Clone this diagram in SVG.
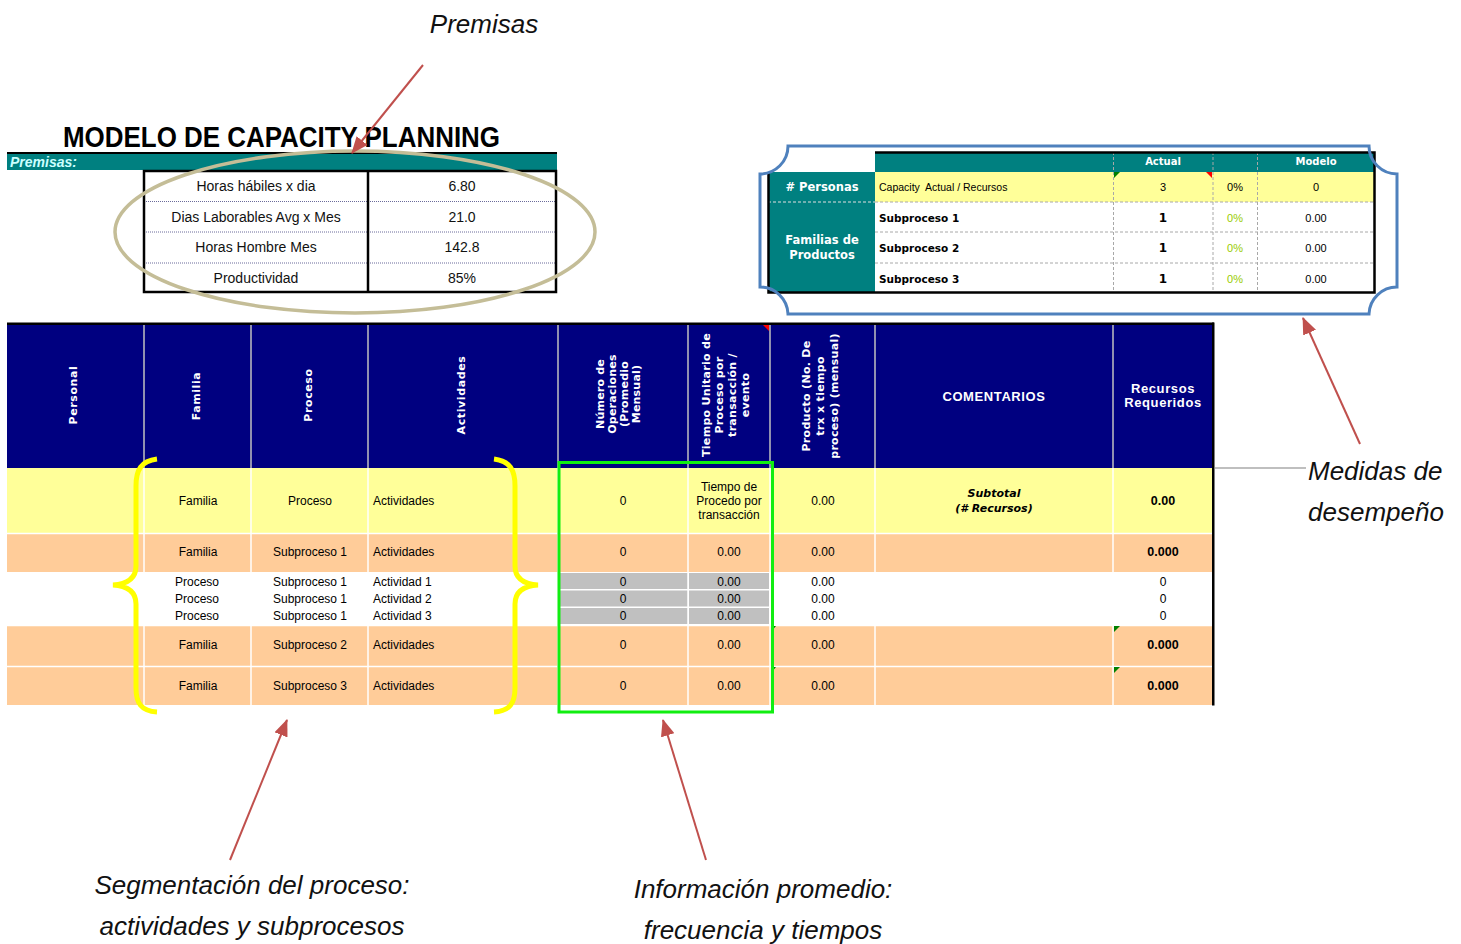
<svg xmlns="http://www.w3.org/2000/svg" width="1461" height="944" viewBox="0 0 1461 944">
<style>
.lbl{font-family:"Liberation Sans",Arial,sans-serif;font-style:italic;font-size:26px;fill:#111}
.t12{font-family:"Liberation Sans",Arial,sans-serif;font-size:12px;fill:#000}
.t14{font-family:"Liberation Sans",Arial,sans-serif;font-size:14px;fill:#111}
.b12{font-family:"Liberation Sans",Arial,sans-serif;font-size:12.5px;font-weight:bold;fill:#000}
.hv{font-family:"DejaVu Sans",Verdana,sans-serif;font-size:11px;font-weight:bold;fill:#fff;letter-spacing:0.6px}
.hh{font-family:"Liberation Sans",Arial,sans-serif;font-size:13px;font-weight:bold;fill:#fff;letter-spacing:0.6px}
.sm{font-family:"DejaVu Sans",Verdana,sans-serif;font-size:10.5px;font-weight:bold;fill:#000}
.smr{font-family:"Liberation Sans",Arial,sans-serif;font-size:11px;fill:#000}
.tw{font-family:"DejaVu Sans",Verdana,sans-serif;font-size:11.5px;font-weight:bold;fill:#fff}
.th{font-family:"DejaVu Sans",Verdana,sans-serif;font-size:10px;font-weight:bold;fill:#fff}
.mid{text-anchor:middle}
.sepg{stroke:#c0c0c0;stroke-width:1.5}
.sepw{stroke:#fff;stroke-width:1.5}
.dash{stroke:#a8a8a8;stroke-width:1;stroke-dasharray:3 2}
.dot{stroke:#6a6a9a;stroke-width:1;stroke-dasharray:1 1}
.arrow{stroke:#c0504d;stroke-width:2;fill:none;marker-end:url(#ah)}
</style>
<defs>
<marker id="ah" markerUnits="userSpaceOnUse" markerWidth="18" markerHeight="14" refX="16" refY="7" orient="auto">
<path d="M0,0 L17,7 L0,14 z" fill="#c0504d"/>
</marker>
</defs>
<rect width="1461" height="944" fill="#fff"/>

<g id="title">
<text x="63" y="147" textLength="437" lengthAdjust="spacingAndGlyphs" style="font-family:'Liberation Sans',Arial,sans-serif;font-weight:bold;font-size:29px;fill:#000">MODELO DE CAPACITY PLANNING</text>
</g>

<g id="premisas-table">
<rect x="7" y="152" width="550" height="2" fill="#000"/>
<rect x="7" y="154" width="550" height="16" fill="#008080"/>
<text x="10" y="167" style="font-family:'Liberation Sans',Arial,sans-serif;font-weight:bold;font-style:italic;font-size:14px;fill:#ccffff">Premisas:</text>
<rect x="144" y="171" width="412" height="121" fill="#fff"/>
<line x1="144" y1="201.5" x2="556" y2="201.5" class="dot"/>
<line x1="144" y1="232" x2="556" y2="232" class="dot"/>
<line x1="144" y1="263" x2="556" y2="263" class="dot"/>
<rect x="144" y="171" width="412" height="121" fill="none" stroke="#000" stroke-width="2.5"/>
<line x1="368" y1="171" x2="368" y2="292" stroke="#000" stroke-width="2.5"/>
<text x="256" y="191" class="t14 mid">Horas hábiles x dia</text>
<text x="256" y="221.5" class="t14 mid">Dias Laborables Avg x Mes</text>
<text x="256" y="252" class="t14 mid">Horas Hombre Mes</text>
<text x="256" y="282.5" class="t14 mid">Productividad</text>
<text x="462" y="191" class="t14 mid">6.80</text>
<text x="462" y="221.5" class="t14 mid">21.0</text>
<text x="462" y="252" class="t14 mid">142.8</text>
<text x="462" y="282.5" class="t14 mid">85%</text>
</g>

<g id="performance-table">
<rect x="875" y="152" width="500" height="20" fill="#008080"/>
<rect x="768" y="172" width="107" height="121" fill="#008080"/>
<rect x="875" y="172" width="500" height="30" fill="#ffff99"/>
<rect x="875" y="202" width="500" height="91" fill="#fff"/>
<line x1="768" y1="202" x2="875" y2="202" stroke="#e0e0e0" stroke-width="1" stroke-dasharray="3 2"/>
<line x1="875" y1="202" x2="1375" y2="202" class="dash"/>
<line x1="875" y1="232" x2="1375" y2="232" class="dash"/>
<line x1="875" y1="263" x2="1375" y2="263" class="dash"/>
<line x1="1113.5" y1="152" x2="1113.5" y2="293" class="dash"/>
<line x1="1213" y1="152" x2="1213" y2="293" class="dash"/>
<line x1="1257.5" y1="152" x2="1257.5" y2="293" class="dash"/>
<path d="M875,152.5 H1374.5 V292.5 H768.5 V172" fill="none" stroke="#000" stroke-width="2.5"/>
<polygon points="1114,172 1120,172 1114,178" fill="#008000"/>
<polygon points="1206,172 1212,172 1212,178" fill="#ff0000"/>
<text x="1163" y="165" class="th mid">Actual</text>
<text x="1316" y="165" class="th mid">Modelo</text>
<text x="822" y="191" class="tw mid"># Personas</text>
<text x="822" y="244" class="tw mid">Familias de</text>
<text x="822" y="258.5" class="tw mid">Productos</text>
<text x="879" y="191" class="smr" style="font-size:10.5px;white-space:pre" xml:space="preserve">Capacity  Actual / Recursos</text>
<text x="1163" y="191" class="smr mid">3</text>
<text x="1235" y="191" class="smr mid">0%</text>
<text x="1316" y="191" class="smr mid">0</text>
<text x="879" y="222" class="sm">Subproceso 1</text>
<text x="879" y="252" class="sm">Subproceso 2</text>
<text x="879" y="282.5" class="sm">Subproceso 3</text>
<text x="1163" y="222" class="sm mid" style="font-size:12px">1</text>
<text x="1163" y="252" class="sm mid" style="font-size:12px">1</text>
<text x="1163" y="282.5" class="sm mid" style="font-size:12px">1</text>
<text x="1235" y="222" class="smr mid" style="fill:#99cc00">0%</text>
<text x="1235" y="252" class="smr mid" style="fill:#99cc00">0%</text>
<text x="1235" y="282.5" class="smr mid" style="fill:#99cc00">0%</text>
<text x="1316" y="222" class="smr mid">0.00</text>
<text x="1316" y="252" class="smr mid">0.00</text>
<text x="1316" y="282.5" class="smr mid">0.00</text>
</g>

<g id="main-table">
<rect x="7" y="322.5" width="1207" height="2.5" fill="#000"/>
<rect x="7" y="325" width="1206" height="143" fill="#000080"/>
<rect x="7" y="468" width="1206" height="65" fill="#ffff99"/>
<rect x="7" y="533" width="1206" height="39" fill="#ffcc99"/>
<rect x="7" y="572" width="1206" height="53" fill="#fff"/>
<rect x="7" y="625" width="1206" height="41" fill="#ffcc99"/>
<rect x="7" y="666" width="1206" height="39" fill="#ffcc99"/>
<rect x="558" y="573" width="130" height="16" fill="#c0c0c0"/>
<rect x="558" y="590.5" width="130" height="16" fill="#c0c0c0"/>
<rect x="558" y="608" width="130" height="16" fill="#c0c0c0"/>
<rect x="689" y="573" width="80" height="16" fill="#c0c0c0"/>
<rect x="689" y="590.5" width="80" height="16" fill="#c0c0c0"/>
<rect x="689" y="608" width="80" height="16" fill="#c0c0c0"/>
<g class="sepg">
<line x1="144" y1="325" x2="144" y2="468"/>
<line x1="251" y1="325" x2="251" y2="468"/>
<line x1="368" y1="325" x2="368" y2="468"/>
<line x1="558" y1="325" x2="558" y2="468"/>
<line x1="688" y1="325" x2="688" y2="468"/>
<line x1="770" y1="325" x2="770" y2="468"/>
<line x1="875" y1="325" x2="875" y2="468"/>
<line x1="1113" y1="325" x2="1113" y2="468"/>
</g>
<g class="sepw">
<line x1="7" y1="533.5" x2="1213" y2="533.5"/>
<line x1="7" y1="625.5" x2="1213" y2="625.5"/>
<line x1="7" y1="666.5" x2="1213" y2="666.5"/>
<line x1="144" y1="468" x2="144" y2="572"/>
<line x1="251" y1="468" x2="251" y2="572"/>
<line x1="368" y1="468" x2="368" y2="572"/>
<line x1="558" y1="468" x2="558" y2="572"/>
<line x1="688" y1="468" x2="688" y2="572"/>
<line x1="770" y1="468" x2="770" y2="572"/>
<line x1="875" y1="468" x2="875" y2="572"/>
<line x1="1113" y1="468" x2="1113" y2="572"/>
<line x1="144" y1="625" x2="144" y2="705"/>
<line x1="251" y1="625" x2="251" y2="705"/>
<line x1="368" y1="625" x2="368" y2="705"/>
<line x1="558" y1="625" x2="558" y2="705"/>
<line x1="688" y1="625" x2="688" y2="705"/>
<line x1="770" y1="625" x2="770" y2="705"/>
<line x1="875" y1="625" x2="875" y2="705"/>
<line x1="1113" y1="625" x2="1113" y2="705"/>
<line x1="688" y1="572" x2="688" y2="625"/>
</g>
<rect x="1212" y="322.5" width="2.5" height="383" fill="#000"/>
<polygon points="763,325 769,325 769,331" fill="#ff0000"/>
<polygon points="771,626 776,626 771,632" fill="#008000"/>
<polygon points="771,667 776,667 771,673" fill="#008000"/>
<polygon points="1114,626 1120,626 1114,632" fill="#008000"/>
<polygon points="1114,667 1120,667 1114,673" fill="#008000"/>

<text transform="translate(73,395) rotate(-90)" y="4" class="hv mid">Personal</text>
<text transform="translate(196,396) rotate(-90)" y="4" class="hv mid">Familia</text>
<text transform="translate(308,395) rotate(-90)" y="4" class="hv mid">Proceso</text>
<text transform="translate(461,395) rotate(-90)" y="4" class="hv mid">Actividades</text>
<text transform="translate(623,394) rotate(-90)" class="hv mid" style="letter-spacing:0.2px"><tspan x="0" y="-19">Número de</tspan><tspan x="0" y="-7">Operaciones</tspan><tspan x="0" y="5">(Promedio</tspan><tspan x="0" y="17">Mensual)</tspan></text>
<text transform="translate(729,395) rotate(-90)" class="hv mid" style="letter-spacing:0.3px"><tspan x="0" y="-19">Tiempo Unitario de</tspan><tspan x="0" y="-6">Proceso por</tspan><tspan x="0" y="7">transacción /</tspan><tspan x="0" y="20">evento</tspan></text>
<text transform="translate(823,396) rotate(-90)" class="hv mid" style="letter-spacing:0.3px"><tspan x="0" y="-13">Producto (No. De</tspan><tspan x="0" y="1">trx x tiempo</tspan><tspan x="0" y="15">proceso) (mensual)</tspan></text>
<text x="994" y="401" class="hh mid">COMENTARIOS</text>
<text x="1163" y="393" class="hh mid">Recursos</text>
<text x="1163" y="407" class="hh mid">Requeridos</text>

<text x="198" y="505" class="t12 mid">Familia</text>
<text x="310" y="505" class="t12 mid">Proceso</text>
<text x="373" y="505" class="t12">Actividades</text>
<text x="623" y="505" class="t12 mid">0</text>
<text x="729" y="491" class="t12 mid">Tiempo de</text>
<text x="729" y="505" class="t12 mid">Procedo por</text>
<text x="729" y="519" class="t12 mid">transacción</text>
<text x="823" y="505" class="t12 mid">0.00</text>
<text x="994" y="497" class="mid" style="font-family:'DejaVu Sans',Verdana,sans-serif;font-size:11px;font-weight:bold;font-style:italic;fill:#000">Subtotal</text>
<text x="994" y="512" class="mid" style="font-family:'DejaVu Sans',Verdana,sans-serif;font-size:11px;font-weight:bold;font-style:italic;fill:#000">(# Recursos)</text>
<text x="1163" y="505" class="b12 mid">0.00</text>

<text x="198" y="556" class="t12 mid">Familia</text>
<text x="310" y="556" class="t12 mid">Subproceso 1</text>
<text x="373" y="556" class="t12">Actividades</text>
<text x="623" y="556" class="t12 mid">0</text>
<text x="729" y="556" class="t12 mid">0.00</text>
<text x="823" y="556" class="t12 mid">0.00</text>
<text x="1163" y="556" class="b12 mid">0.000</text>

<text x="197" y="586" class="t12 mid">Proceso</text>
<text x="310" y="586" class="t12 mid">Subproceso 1</text>
<text x="373" y="586" class="t12">Actividad 1</text>
<text x="623" y="586" class="t12 mid">0</text>
<text x="729" y="586" class="t12 mid">0.00</text>
<text x="823" y="586" class="t12 mid">0.00</text>
<text x="1163" y="586" class="t12 mid">0</text>

<text x="197" y="602.5" class="t12 mid">Proceso</text>
<text x="310" y="602.5" class="t12 mid">Subproceso 1</text>
<text x="373" y="602.5" class="t12">Actividad 2</text>
<text x="623" y="602.5" class="t12 mid">0</text>
<text x="729" y="602.5" class="t12 mid">0.00</text>
<text x="823" y="602.5" class="t12 mid">0.00</text>
<text x="1163" y="602.5" class="t12 mid">0</text>

<text x="197" y="620" class="t12 mid">Proceso</text>
<text x="310" y="620" class="t12 mid">Subproceso 1</text>
<text x="373" y="620" class="t12">Actividad 3</text>
<text x="623" y="620" class="t12 mid">0</text>
<text x="729" y="620" class="t12 mid">0.00</text>
<text x="823" y="620" class="t12 mid">0.00</text>
<text x="1163" y="620" class="t12 mid">0</text>

<text x="198" y="649" class="t12 mid">Familia</text>
<text x="310" y="649" class="t12 mid">Subproceso 2</text>
<text x="373" y="649" class="t12">Actividades</text>
<text x="623" y="649" class="t12 mid">0</text>
<text x="729" y="649" class="t12 mid">0.00</text>
<text x="823" y="649" class="t12 mid">0.00</text>
<text x="1163" y="649" class="b12 mid">0.000</text>

<text x="198" y="690" class="t12 mid">Familia</text>
<text x="310" y="690" class="t12 mid">Subproceso 3</text>
<text x="373" y="690" class="t12">Actividades</text>
<text x="623" y="690" class="t12 mid">0</text>
<text x="729" y="690" class="t12 mid">0.00</text>
<text x="823" y="690" class="t12 mid">0.00</text>
<text x="1163" y="690" class="b12 mid">0.000</text>
</g>

<g id="highlights">
<ellipse cx="355" cy="232" rx="240" ry="81" fill="none" stroke="#c4bd97" stroke-width="3.5"/>
<path d="M788,146 H1369 A28,28 0 0 0 1397,174 V287 A28,28 0 0 0 1369,314 H788 A28,28 0 0 0 760,287 V174 A28,28 0 0 0 788,146 Z" fill="none" stroke="#4f81bd" stroke-width="3"/>
<path d="M157,459 C141,461 136,470 136,486 L136,566 C136,578 128,584 113,585 C128,586 136,592 136,604 L136,688 C136,703 141,711 157,712" fill="none" stroke="#ffff00" stroke-width="5"/>
<path d="M494,459 C510,461 515,470 515,486 L515,566 C515,578 523,584 538,585 C523,586 515,592 515,604 L515,688 C515,703 510,711 494,712" fill="none" stroke="#ffff00" stroke-width="5"/>
<rect x="559" y="462.5" width="213.5" height="249.5" fill="none" stroke="#11ee11" stroke-width="3"/>
</g>

<g id="connectors">
<line x1="423" y1="65" x2="352" y2="153" class="arrow"/>
<line x1="1360" y1="444" x2="1303" y2="318" class="arrow"/>
<line x1="230" y1="860" x2="287" y2="720" class="arrow"/>
<line x1="706" y1="860" x2="663" y2="720" class="arrow"/>
<line x1="1214" y1="468" x2="1306" y2="468" stroke="#808080" stroke-width="1.2"/>
</g>

<g id="labels">
<text x="484" y="33" class="lbl mid">Premisas</text>
<text x="1308" y="480" class="lbl">Medidas de</text>
<text x="1308" y="521" class="lbl">desempeño</text>
<text x="252" y="894" class="lbl mid">Segmentación del proceso:</text>
<text x="252" y="935" class="lbl mid">actividades y subprocesos</text>
<text x="763" y="898" class="lbl mid">Información promedio:</text>
<text x="763" y="939" class="lbl mid">frecuencia y tiempos</text>
</g>
</svg>
